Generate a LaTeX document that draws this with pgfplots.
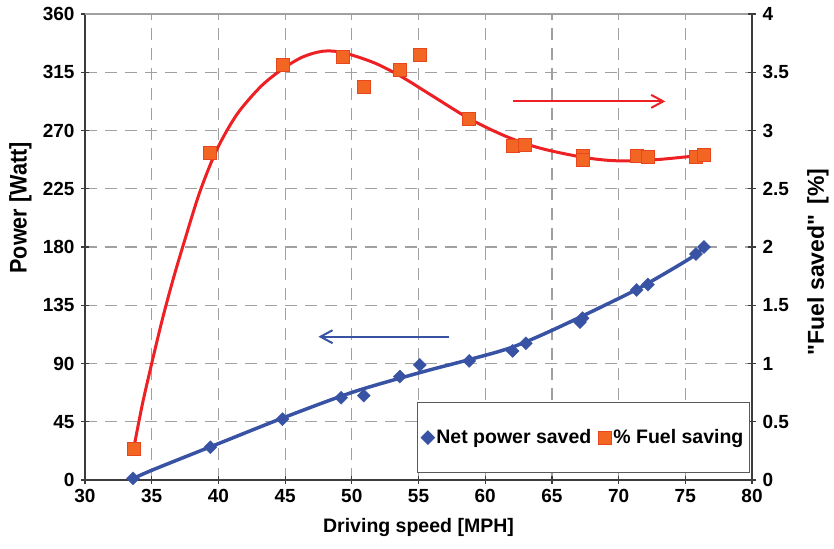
\documentclass[border=0pt]{standalone}
\usepackage{graphicx}
\usepackage{pgfplots}
\pgfplotsset{compat=1.18}
\usepackage{fontspec}
\setmainfont{Liberation Sans}
\usetikzlibrary{arrows.meta}
\newcommand\sq{\XeTeXglyph\numexpr\XeTeXcharglyph"22\relax}
\definecolor{blueline}{RGB}{57,83,164}
\definecolor{redline}{RGB}{237,32,36}
\definecolor{orangefill}{RGB}{242,101,34}
\definecolor{orangeedge}{RGB}{232,70,30}
\definecolor{gridgray}{RGB}{160,160,160}
\definecolor{axisdark}{RGB}{60,60,60}
\begin{document}
\begin{tikzpicture}
\pgfplotsset{
  common/.style={
    scale only axis, width=667pt, height=466pt,
    at={(0pt,0pt)}, anchor=south west,
    xmin=30, xmax=80,
    /pgf/number format/assume math mode=true,
    tick label style={font=\fontsize{19}{19}\selectfont\bfseries},
    tick align=center, major tick length=8pt,
    tick style={axisdark, line width=1.2pt},
    axis line style={axisdark, line width=1.5pt},
  }
}
\begin{axis}[common,
  ymin=0, ymax=360, ytick={0,45,...,360},
  xtick={30,35,...,80},
  axis x line*=bottom, axis y line*=left,
  grid=major,
  grid style={gridgray, line width=1.2pt, dash pattern=on 12pt off 8pt},
  xlabel={Driving speed [MPH]},
  xlabel style={font=\fontsize{19.5}{20}\selectfont\bfseries, at={(axis description cs:0.5,-0.101)}, anchor=center},
  ylabel={\scalebox{0.9}[1]{Power [Watt]}},
  ylabel style={font=\fontsize{24}{24}\selectfont\bfseries, at={(axis description cs:-0.097,0.584)}, anchor=center, rotate=0},
  yticklabel style={xshift=-3pt},
  xticklabel style={yshift=-2pt},
]
\draw[gridgray, line width=1.2pt] (rel axis cs:0,1) -- (rel axis cs:1,1);
% trend line (net power)
\addplot[blueline, line width=3.5pt, smooth, no marks] coordinates {
(33.6,1) (35.05,7.7) (40.05,28.3) (45.1,49) (50.2,68.3) (55.3,83.5) (58.8,93) (62,102.5) (65.3,117) (70.3,141.7) (72.2,152) (75.4,171.5) (76.4,180)
};
% measured points
\addplot[only marks, mark=square*, mark size=4.6pt, mark options={rotate=45, fill=blueline, draw=blueline}] coordinates {
(33.6,1.3) (39.4,25.3) (44.8,47) (49.2,63.6) (50.9,65.2) (53.6,79.9) (55.1,88.9) (58.8,92) (62.05,99.7) (63.05,105.6) (67.1,122) (67.3,125) (71.35,146.8) (72.2,151) (75.8,174.6) (76.4,180)
};
\draw[blueline, line width=2pt, -{Straight Barb[length=12pt,width=13pt]}] (axis cs:57.3,110.7) -- (axis cs:47.5,110.7);
\end{axis}
\begin{axis}[common,
  ymin=0, ymax=4, ytick={0,0.5,...,4},
  axis y line*=right, axis x line=none,
  ylabel={\sq Fuel saved\sq{}\ \,[\%]},
  ylabel style={font=\fontsize{23}{24}\selectfont\bfseries, at={(axis description cs:1.099,0.468)}, anchor=center, rotate=0},
  yticklabel style={xshift=3pt},
  legend columns=2,
  legend style={at={(0.997,0.015)}, anchor=south east, draw=black!65, line width=1.2pt,
    inner xsep=4pt, inner ysep=25pt,
    font=\fontsize{19.5}{21}\selectfont\bfseries,
    /tikz/every even column/.append style={column sep=5pt}},
  legend image code/.code={\draw[#1] plot coordinates {(0.25cm,0cm)};},
]
\addlegendimage{only marks, mark=square*, mark size=4.6pt, mark options={rotate=45, fill=blueline, draw=blueline}}
\addlegendentry{Net power saved}
\addplot[redline, line width=3pt, smooth, no marks, forget plot] coordinates {
(33.7,0.30) (34.3,0.65) (35.0,1.0) (35.8,1.38) (36.6,1.72) (37.4,2.03) (38.6,2.47) (39.9,2.84) (41.4,3.14) (43.2,3.38) (44.83,3.53) (46.3,3.63) (47.8,3.68) (49.3,3.67) (51.7,3.58) (53.75,3.46) (56.0,3.30) (58.83,3.10) (61.55,2.95) (64.06,2.85) (67.33,2.77) (69.85,2.74) (72.86,2.75) (76.4,2.79)
};
\addplot[only marks, mark=square*, mark size=6.5pt, mark options={fill=orangefill, draw=orangeedge, line width=0.8pt}] coordinates {
(33.7,0.27) (39.4,2.81) (44.8,3.56) (49.3,3.63) (50.9,3.37) (53.6,3.52) (55.1,3.65) (58.8,3.10) (62.05,2.87) (63.0,2.88) (67.3,2.78) (67.3,2.75) (71.35,2.78) (72.2,2.77) (75.8,2.77) (76.4,2.79)
};
\addlegendentry{\% Fuel saving}
\draw[redline, line width=2pt, -{Straight Barb[length=12pt,width=13pt]}] (axis cs:62.1,3.25) -- (axis cs:73.5,3.25);
\end{axis}
\pgfresetboundingbox
\path (-85pt,-68pt) rectangle (749pt,480pt);
\end{tikzpicture}
\end{document}
